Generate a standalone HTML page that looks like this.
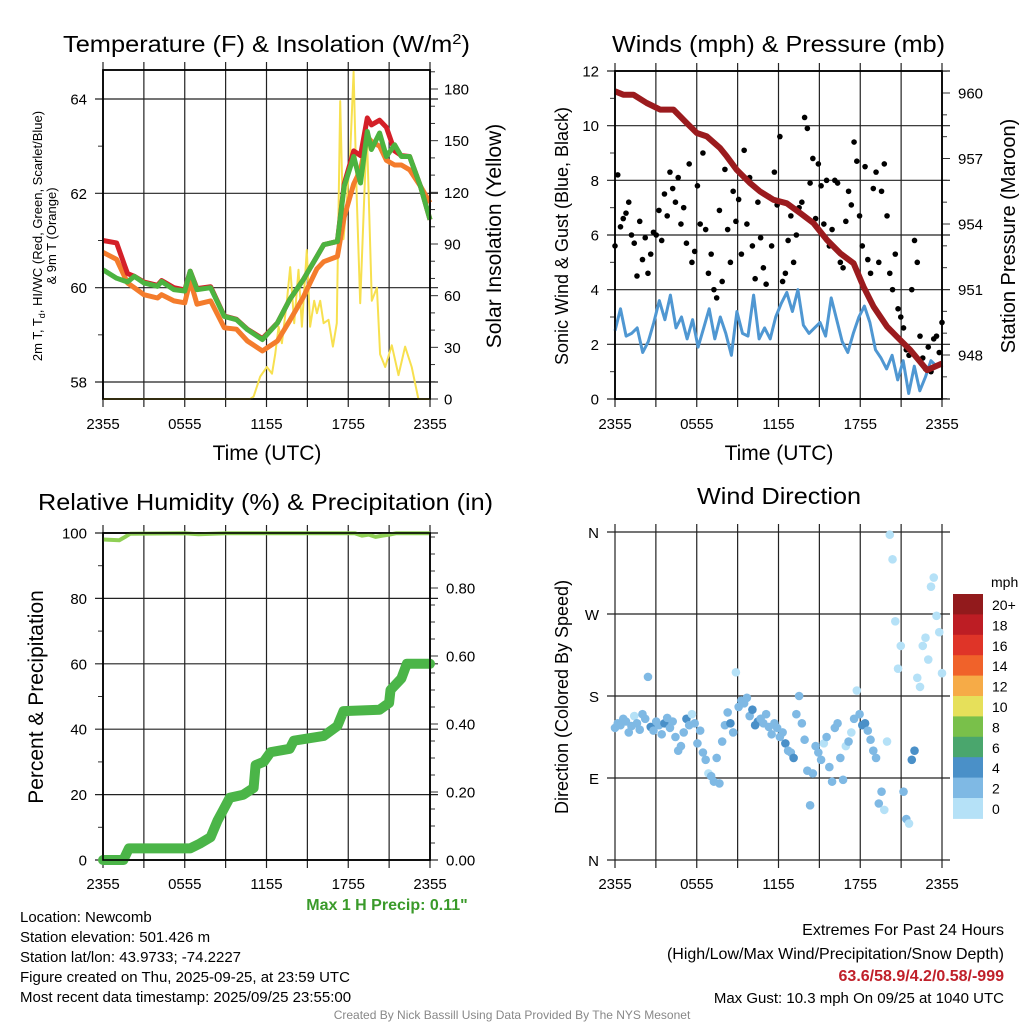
<!DOCTYPE html>
<html><head><meta charset="utf-8">
<style>
html,body{margin:0;padding:0;background:#fff;}
svg{display:block;font-family:"Liberation Sans",sans-serif;}
</style></head>
<body>
<svg id="chart" width="1024" height="1024" viewBox="0 0 1024 1024" xmlns="http://www.w3.org/2000/svg">
<rect width="1024" height="1024" fill="#fff"/>
<g id="p1"></g>
<g id="p2"></g>
<g id="p3"></g>
<g id="p4"></g>

<text x="63" y="52" font-size="23" textLength="407" lengthAdjust="spacingAndGlyphs">Temperature (F) &amp; Insolation (W/m<tspan baseline-shift="super" font-size="15">2</tspan>)</text>
<text x="612" y="52" font-size="23" textLength="333" lengthAdjust="spacingAndGlyphs">Winds (mph) &amp; Pressure (mb)</text>
<text x="38" y="510" font-size="23" textLength="455" lengthAdjust="spacingAndGlyphs">Relative Humidity (%) &amp; Precipitation (in)</text>
<text x="697" y="504" font-size="23" textLength="164" lengthAdjust="spacingAndGlyphs">Wind Direction</text>

<text x="267" y="460" font-size="21" text-anchor="middle">Time (UTC)</text>
<text x="779" y="460" font-size="21" text-anchor="middle">Time (UTC)</text>

<text transform="translate(42,236) rotate(-90)" font-size="13" text-anchor="middle">2m T, T<tspan font-size="9" dy="3">d</tspan><tspan dy="-3">, HI/WC (Red, Green, Scarlet/Blue)</tspan></text>
<text transform="translate(56,236) rotate(-90)" font-size="13" text-anchor="middle">&amp; 9m T (Orange)</text>
<text transform="translate(501,236) rotate(-90)" font-size="21" text-anchor="middle">Solar Insolation (Yellow)</text>
<text transform="translate(568,236) rotate(-90)" font-size="18" text-anchor="middle">Sonic Wind &amp; Gust (Blue, Black)</text>
<text transform="translate(1015,236) rotate(-90)" font-size="20" text-anchor="middle">Station Pressure (Maroon)</text>
<text transform="translate(43,697) rotate(-90)" font-size="21" text-anchor="middle">Percent &amp; Precipitation</text>
<text transform="translate(568,697) rotate(-90)" font-size="18" text-anchor="middle">Direction (Colored By Speed)</text>

<text x="387" y="910" font-size="16" font-weight="bold" fill="#3a9a2a" text-anchor="middle">Max 1 H Precip: 0.11"</text>

<g font-size="15">
<text x="20" y="922">Location: Newcomb</text>
<text x="20" y="942">Station elevation: 501.426 m</text>
<text x="20" y="962">Station lat/lon: 43.9733; -74.2227</text>
<text x="20" y="982">Figure created on Thu, 2025-09-25, at 23:59 UTC</text>
<text x="20" y="1002">Most recent data timestamp: 2025/09/25 23:55:00</text>
</g>
<g font-size="16" text-anchor="end">
<text x="1004" y="935">Extremes For Past 24 Hours</text>
<text x="1004" y="959">(High/Low/Max Wind/Precipitation/Snow Depth)</text>
<text x="1004" y="981" fill="#c0202a" font-weight="bold">63.6/58.9/4.2/0.58/-999</text>
<text x="1004" y="1003" font-size="15">Max Gust: 10.3 mph On 09/25 at 1040 UTC</text>
</g>
<text x="512" y="1019" font-size="12" fill="#888" text-anchor="middle">Created By Nick Bassill Using Data Provided By The NYS Mesonet</text>
</svg>
<script>
// ---- Data ----
const xTickLabels = ["2355","0555","1155","1755","2355"];
const tempHours = [0,1,1.8,2.3,3,4,4.3,5.2,6,6.4,6.9,7.9,8.9,9.8,10.6,11.7,12.8,13.7,14.7,15.7,16.2,17.2,17.7,18.4,18.9,19.4,19.7,20.3,20.8,21.4,21.9,22.5,23.3,24];
const tempRed = [61.0,60.95,60.3,60.24,60.12,60.05,60.15,60.0,59.95,60.35,59.98,60.02,59.4,59.33,59.12,58.92,59.25,59.75,60.17,60.66,60.91,60.98,62.2,62.9,62.8,63.6,63.45,63.55,63.4,62.9,62.8,62.78,62.15,61.44];
const tempOrange = [60.75,60.6,60.1,60.0,59.85,59.78,59.85,59.72,59.68,60.15,59.65,59.72,59.15,59.12,58.87,58.66,58.87,59.3,59.8,60.4,60.55,60.66,61.5,62.2,62.5,63.2,63.1,63.0,62.7,62.6,62.6,62.5,62.15,61.8];
const tempGreen = [60.38,60.2,60.12,60.24,60.1,60.03,60.13,59.96,59.93,60.35,59.96,60.0,59.39,59.32,59.11,58.9,59.25,59.75,60.17,60.66,60.91,60.98,62.15,62.78,62.22,63.31,62.93,63.28,62.78,63.03,62.78,62.78,62.15,61.44];
const solarHours = [0,10.8,11.05,11.54,12.03,12.4,12.64,12.89,13.13,13.5,13.74,14.03,14.35,14.6,14.96,15.2,15.5,15.7,15.94,16.19,16.55,16.87,17.16,17.41,17.65,17.9,18.14,18.39,18.63,18.88,19.36,19.73,20.1,20.34,20.71,21.2,21.69,22.17,22.66,23.15,24];
const solarValues = [0,0,1.4,13,18.6,14.7,26,42,32.4,57,76.6,44,75,42,86.5,42,57,49.8,57,44,46,30.4,44,173,92.8,116,143,190,116,55.6,156,57,64.7,26,18.6,31.2,13.9,30.4,18.6,0,0];
const tempTicks = [58,60,62,64];
const solarTicks = [0,30,60,90,120,150,180];

const pressHours = [0,0.61,1.35,2.33,3.31,4.29,5.27,6.0,6.74,7.71,8.2,8.94,9.92,10.65,11.63,12.61,13.59,14.57,15.55,16.53,17.51,18.24,18.98,19.96,20.69,21.67,22.9,24];
const pressValues = [960.08,959.92,959.92,959.54,959.24,959.24,958.62,958.17,958.01,957.48,957.1,956.48,955.87,955.49,955.11,954.95,954.5,954.04,953.27,952.66,952.2,951.13,950.21,949.3,948.84,948.23,947.31,947.61];
const windValues = [2.5,3.3,2.3,2.4,2.6,1.7,2.1,2.8,3.6,2.9,3.8,2.6,3.0,2.2,2.9,1.9,2.6,3.3,2.2,3.0,2.4,1.6,3.2,2.4,2.3,3.8,2.2,2.6,2.2,3.0,3.5,3.9,3.2,4.0,2.7,2.4,2.6,2.8,2.3,3.7,2.9,2.1,1.7,2.4,3.0,3.4,2.8,1.8,1.5,1.1,1.6,0.7,1.4,0.2,1.2,0.3,0.8,1.4,1.2,1.3];
const gustValues = [5.6,8.2,6.3,6.6,6.8,7.2,6.0,5.7,4.5,6.5,5.1,5.9,4.6,5.3,6.1,6.0,6.9,5.8,7.5,6.7,
 8.3,7.7,7.2,8.1,6.4,7.0,5.7,8.6,5.0,5.4,7.8,6.4,9.0,6.2,4.6,5.3,4.0,3.7,6.9,4.3,
 8.4,6.2,5.0,7.6,6.5,7.3,5.3,9.1,6.4,8.1,5.6,4.4,7.2,5.9,4.8,4.2,7.4,5.6,8.3,7.1,
 9.6,4.3,4.6,5.8,6.7,5.0,6.0,7.0,7.2,10.3,9.9,7.9,8.8,6.6,8.6,7.8,6.4,8.0,5.6,6.2,
 8.0,7.9,5.0,4.8,6.5,7.6,7.1,9.4,8.7,6.7,5.6,8.5,5.1,4.6,7.7,8.3,5.0,7.6,8.6,6.7,
 4.6,4.0,5.3,3.3,3.0,2.6,1.8,1.6,4.0,5.8,5.0,2.3,1.5,1.1,1.9,1.0,2.2,2.3,1.7,2.8];
const windTicks = [0,2,4,6,8,10,12];
const pressTicks = [948,951,954,957,960];

const rhHours = [0,1.2,1.5,2,6,7,9,18.5,19,19.5,20,20.5,21,21.5,24];
const rhValues = [98,97.8,98.5,99.8,99.9,99.6,99.9,99.9,99.2,99.5,98.8,99.2,99.5,99.9,99.9];
const precipHours = [0,1.5,1.9,6.4,7.1,7.9,8.4,8.85,9.3,10.3,11.05,11.2,11.8,12.3,13.7,14.0,16.2,17.2,17.65,20.3,21.0,21.1,21.9,22.3,24];
const precipValues = [0,0,0.034,0.034,0.048,0.067,0.115,0.149,0.183,0.192,0.212,0.279,0.289,0.317,0.327,0.351,0.365,0.394,0.438,0.442,0.462,0.50,0.534,0.577,0.577];
const pctTicks = [0,20,40,60,80,100];
const precipTicks = [0,0.2,0.4,0.6,0.8];

const dirValues = [145,150,148,155,152,140,147,158,150,143,160,155,201,146,142,152,148,138,150,156,
 145,152,135,120,125,140,155,148,160,150,128,142,118,110,95,92,86,112,84,130,
 148,162,150,140,206,168,175,172,178,158,165,148,152,155,150,160,146,138,150,145,
 135,140,128,120,118,112,160,180,150,132,98,60,95,125,118,110,128,135,102,86,
 145,150,112,88,125,130,140,155,186,160,148,150,142,132,120,112,62,75,55,130,
 357,330,262,210,235,75,45,40,110,120,200,190,235,244,220,300,310,268,250,205];
const dirSpeeds = [3,3,3,3,3,3,3,1,3,3,3,3,3,5,3,3,3,3,5,3,
 3,3,3,3,3,3,5,3,1,3,3,3,3,3,1,3,3,3,3,3,
 3,3,5,3,1,3,3,3,3,3,5,5,5,3,3,3,3,3,3,3,
 3,3,5,3,3,5,3,3,3,3,3,3,3,3,3,3,1,3,3,3,
 3,3,3,3,1,3,1,3,1,3,5,5,3,3,3,3,3,3,1,1,
 1,1,1,1,1,3,3,1,5,5,1,1,1,1,1,1,1,1,1,1];
const speedBins = ["20+","18","16","14","12","10","8","6","4","2","0"];
const speedColors = ["#921a1c","#bd1d24","#df3428","#f0622a","#f6ab47","#e6e05a","#79c04a","#4aa66d","#4a90c8","#7fb9e4","#b5e1f7"];
const dirLabels = ["N","E","S","W","N"];
const dirTicks = [0,90,180,270,360];

// ---- helpers ----
const NS = "http://www.w3.org/2000/svg";
function mk(parent, tag, attrs){const e=document.createElementNS(NS,tag);for(const k in attrs)e.setAttribute(k,attrs[k]);parent.appendChild(e);return e;}
function lin(d0,d1,r0,r1){return v=>r0+(v-d0)*(r1-r0)/(d1-d0);}
function pathD(xs,ys,fx,fy){return xs.map((x,i)=>(i?"L":"M")+fx(x).toFixed(1)+","+fy(ys[i]).toFixed(1)).join(" ");}

function frame(g,L,R,T,B,fx,hTicks,fyL){
  for(let h=0;h<=24;h+=3){
    const l=mk(g,"line",{x1:fx(h),x2:fx(h),y1:T-8,y2:B+8,stroke:"#222","stroke-width":1.2});
    
    
  }
  hTicks.forEach(v=>{
    const l=mk(g,"line",{x1:L-8,x2:R+8,y1:fyL(v),y2:fyL(v),stroke:"#222","stroke-width":1.2});
    
    
  });
  const b=mk(g,"rect",{x:L,y:T,width:R-L,height:B-T,fill:"none",stroke:"#000","stroke-width":1.6});
  
  
}
function xLabels(g,fx,y){
  xTickLabels.forEach((s,i)=>{
    const t=mk(g,"text",{x:fx(i*6),y:y,"font-size":15,"text-anchor":"middle"});
    t.textContent=s;
    
    
  });
}
function yLabels(g,ticks,fy,x,anchor,fmt){
  ticks.forEach(v=>{
    const t=mk(g,"text",{x:x,y:fy(v)+5.5,"font-size":15,"text-anchor":anchor});
    t.textContent=fmt(v);
    
    
  });
}
function rightTicks(g,R,lo,hi,step,fy,major){
  for(let v=lo;v<=hi+1e-9;v+=step){
    const isMaj=major(v);
    const l=mk(g,"line",{x1:R,x2:R+(isMaj?8:5),y1:fy(v),y2:fy(v),stroke:"#333","stroke-width":1});
    
    
  }
}
function minorLeft(g,L,vals,fy){
  vals.forEach(v=>{
    const l=mk(g,"line",{x1:L-5,x2:L,y1:fy(v),y2:fy(v),stroke:"#333","stroke-width":1});
    
    
  });
}

// ---- Panel 1 ----
(function(){
  const g=document.getElementById("p1");
  const L=103,R=430,T=70,B=399;
  const fx=lin(0,24,L,R), fy=lin(58,64,382,99), fs=lin(0,180,399,89);
  frame(g,L,R,T,B,fx,tempTicks,fy);
  minorLeft(g,L,[59,61,63],fy);
  rightTicks(g,R,0,190,10,fs,v=>v%30===0);
  const s=mk(g,"path",{d:pathD(solarHours,solarValues,fx,fs),fill:"none",stroke:"#f7e04f","stroke-width":2,"stroke-linejoin":"round"});
  
  
  [[tempOrange,"#f47c2c","orange-9m-temp-line"],[tempRed,"#d42028","red-2m-temp-line"],[tempGreen,"#4cb340","green-dewpoint-line"]].forEach(([v,c,n])=>{
    const p=mk(g,"path",{d:pathD(tempHours,v,fx,fy),fill:"none",stroke:c,"stroke-width":5,"stroke-linejoin":"round"});
    
    
  });
  mk(g,"rect",{x:L,y:T,width:R-L,height:B-T,fill:"none",stroke:"#000","stroke-width":1.6});
  xLabels(g,fx,429);
  yLabels(g,tempTicks,fy,L-16,"end",v=>v);
  yLabels(g,solarTicks,fs,R+14,"start",v=>v);
})();

// ---- Panel 2 ----
(function(){
  const g=document.getElementById("p2");
  const L=615,R=942,T=71,B=399;
  const fx=lin(0,24,L,R), fy=lin(0,12,399,71), fp=lin(948,960,355,93);
  frame(g,L,R,T,B,fx,windTicks,fy);
  minorLeft(g,L,[1,3,5,7,9,11],fy);
  rightTicks(g,R,946,961,1,fp,v=>v%3===0);
  const n=windValues.length;
  const wh=windValues.map((_,i)=>i*24/(n-1));
  const w=mk(g,"path",{d:pathD(wh,windValues,fx,fy),fill:"none",stroke:"#4f97d2","stroke-width":3,"stroke-linejoin":"round"});
  
  
  const gn=gustValues.length;
  gustValues.forEach((v,i)=>{
    const c=mk(g,"circle",{cx:fx(i*24/(gn-1)),cy:fy(v),r:2.8,fill:"#000"});
    
    
  });
  const p=mk(g,"path",{d:pathD(pressHours,pressValues,fx,fp),fill:"none",stroke:"#9b1b1e","stroke-width":6,"stroke-linejoin":"round"});
  
  
  mk(g,"rect",{x:L,y:T,width:R-L,height:B-T,fill:"none",stroke:"#000","stroke-width":1.6});
  xLabels(g,fx,429);
  yLabels(g,windTicks,fy,L-16,"end",v=>v);
  yLabels(g,pressTicks,fp,R+16,"start",v=>v);
})();

// ---- Panel 3 ----
(function(){
  const g=document.getElementById("p3");
  const L=103,R=430,T=533,B=860;
  const fx=lin(0,24,L,R), fy=lin(0,100,860,533), fr=lin(0,0.8,860,588);
  frame(g,L,R,T,B,fx,pctTicks,fy);
  minorLeft(g,L,[10,30,50,70,90],fy);
  rightTicks(g,R,0,0.95,0.05,fr,v=>Math.abs(v*5-Math.round(v*5))<1e-6);
  const rh=mk(g,"path",{d:pathD(rhHours,rhValues,fx,fy),fill:"none",stroke:"#8fcf55","stroke-width":4,"stroke-linejoin":"round"});
  
  
  const pr=mk(g,"path",{d:pathD(precipHours,precipValues,fx,fr),fill:"none",stroke:"#4bb548","stroke-width":10,"stroke-linejoin":"round","stroke-linecap":"round"});
  
  
  mk(g,"rect",{x:L,y:T,width:R-L,height:B-T,fill:"none",stroke:"#000","stroke-width":1.6});
  xLabels(g,fx,889);
  yLabels(g,pctTicks,fy,L-16,"end",v=>v);
  yLabels(g,precipTicks,fr,R+16,"start",v=>v.toFixed(2));
})();

// ---- Panel 4 ----
(function(){
  const g=document.getElementById("p4");
  const L=615,R=942,T=532,B=860;
  const fx=lin(0,24,L,R), fy=lin(0,360,860,532);
  for(let h=0;h<=24;h+=3){
    const l=mk(g,"line",{x1:fx(h),x2:fx(h),y1:T-8,y2:B+8,stroke:"#222","stroke-width":1.2});
    
    
  }
  dirTicks.forEach(v=>{
    const l=mk(g,"line",{x1:L-8,x2:R+8,y1:fy(v),y2:fy(v),stroke:"#222","stroke-width":1.2});
    
    
  });
  const n=dirValues.length;
  dirValues.forEach((v,i)=>{
    const sp=dirSpeeds[i];
    const ci=10-Math.min(10,Math.floor(sp/2));
    const c=mk(g,"circle",{cx:fx(i*24/(n-1)),cy:fy(v),r:4.3,fill:speedColors[ci]});
    
    
  });
  xLabels(g,fx,889);
  dirTicks.forEach((v,i)=>{
    const t=mk(g,"text",{x:L-16,y:fy(v)+6,"font-size":15,"text-anchor":"end"});
    t.textContent=dirLabels[i];
    
    
  });
  const cb=mk(g,"g",{});
  
  
  const bh=20.4;
  speedColors.forEach((c,i)=>{
    const r=mk(cb,"rect",{x:953,y:594+i*bh,width:30,height:bh+0.5,fill:c});
    
    
    const t=mk(cb,"text",{x:992,y:594+i*bh+16,"font-size":14});
    t.textContent=speedBins[i];
    
    
  });
  const u=mk(cb,"text",{x:991,y:587,"font-size":14});
  u.textContent="mph";
  
  
})();
</script>
</body></html>
